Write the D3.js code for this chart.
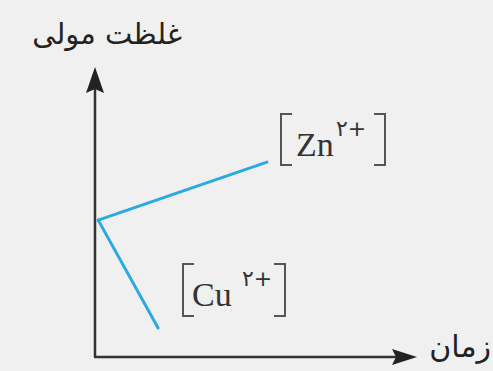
<!DOCTYPE html>
<html>
<head>
<meta charset="utf-8">
<script src="https://cdn.jsdelivr.net/npm/d3@7"></script>
<style>
  html, body { margin: 0; padding: 0; background: #f0f0f0; }
  svg { display: block; }
</style>
</head>
<body>
<svg width="493" height="371"></svg>
<script>
// data (time, molar concentration), arbitrary units
var seriesNames = ["Zn", "Cu"];
var znValues = [[0.1, 4.72], [5.34, 6.72]];
var cuValues = [[0.1, 4.72], [1.96, 1.0]];
var yTitle = "غلظت مولی";
var xTitle = "زمان";
var charge = "۲+";

var svg = d3.select("svg");
var g = svg.append("g").attr("id", "container");

var x = d3.scaleLinear().domain([0, 10]).range([95, 417]);
var y = d3.scaleLinear().domain([0, 10]).range([357, 67]);

var axisColor = "#333";

// axes (no ticks, only arrows)
g.append("line")
    .attr("x1", x(0)).attr("y1", y(0))
    .attr("x2", x(0)).attr("y2", y(10) + 20)
    .style("stroke", axisColor).style("stroke-width", 2.5);
g.append("line")
    .attr("x1", x(0) - 1).attr("y1", y(0))
    .attr("x2", x(10) - 20).attr("y2", y(0))
    .style("stroke", axisColor).style("stroke-width", 2.5);

// arrow heads
g.append("path")
    .attr("d", "M" + x(0) + "," + y(10) + " L" + (x(0) + 9) + "," + (y(10) + 26) +
               " L" + x(0) + "," + (y(10) + 22) + " L" + (x(0) - 9) + "," + (y(10) + 26) + " Z")
    .style("fill", "#222");
g.append("path")
    .attr("d", "M" + x(10) + "," + y(0) + " L" + (x(10) - 25) + "," + (y(0) - 8) +
               " L" + (x(10) - 21) + "," + y(0) + " L" + (x(10) - 25) + "," + (y(0) + 8) + " Z")
    .style("fill", "#222");

var line = d3.line()
    .x(function(d) { return x(d[0]); })
    .y(function(d) { return y(d[1]); });

g.selectAll("path.series")
    .data([znValues, cuValues])
    .enter()
    .append("path")
    .attr("class", "series")
    .attr("d", line)
    .style("fill", "none")
    .style("stroke", "#29aae2")
    .style("stroke-width", 3)
    .style("stroke-linecap", "round");

// axis titles
g.append("text")
    .attr("x", 182).attr("y", 44)
    .attr("text-anchor", "end")
    .style("font-family", "'DejaVu Sans', sans-serif")
    .style("font-size", "29px")
    .style("fill", "#222")
    .text(yTitle);

g.append("text")
    .attr("x", 491).attr("y", 357)
    .attr("text-anchor", "end")
    .style("font-family", "'DejaVu Sans', sans-serif")
    .style("font-size", "30px")
    .style("fill", "#222")
    .text(xTitle);

// bracketed ion labels
var labels = [
    { name: seriesNames[0], left: 281, right: 385, top: 114, bottom: 165, tx: 296, base: 156, sx: 336, sy: 136 },
    { name: seriesNames[1], left: 183, right: 285, top: 264, bottom: 316, tx: 192, base: 306, sx: 242, sy: 286 }
];

var lab = g.selectAll("g.label")
    .data(labels)
    .enter()
    .append("g")
    .attr("class", "label");

lab.append("path")
    .attr("d", function(d) {
        return "M" + (d.left + 11) + "," + d.top + " H" + d.left + " V" + d.bottom + " H" + (d.left + 11);
    })
    .style("fill", "none").style("stroke", "#555").style("stroke-width", 2);
lab.append("path")
    .attr("d", function(d) {
        return "M" + (d.right - 11) + "," + d.top + " H" + d.right + " V" + d.bottom + " H" + (d.right - 11);
    })
    .style("fill", "none").style("stroke", "#555").style("stroke-width", 2);

lab.append("text")
    .attr("x", function(d) { return d.tx; })
    .attr("y", function(d) { return d.base; })
    .style("font-family", "'Liberation Serif', serif")
    .style("font-size", "34px")
    .style("fill", "#333")
    .text(function(d) { return d.name; });

lab.append("text")
    .attr("x", function(d) { return d.sx; })
    .attr("y", function(d) { return d.sy; })
    .style("font-family", "'DejaVu Sans', sans-serif")
    .style("font-size", "22px")
    .style("fill", "#333")
    .text(charge);
</script>
</body>
</html>
